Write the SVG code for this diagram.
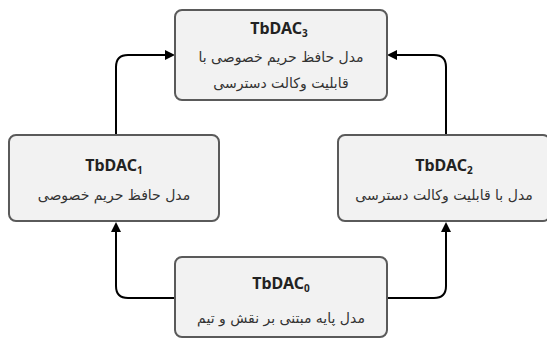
<svg xmlns="http://www.w3.org/2000/svg" width="547" height="339" viewBox="0 0 547 339">
<defs>
<marker id="ah" markerWidth="10" markerHeight="10" refX="8" refY="5" orient="auto" markerUnits="userSpaceOnUse">
<path d="M0,0 L10,5 L0,10 z" fill="#000"/>
</marker>
<style>
.box{fill:#f2f2f2;stroke:#5a5a5a;stroke-width:2}
.t{font-family:"Noto Sans","DejaVu Sans",sans-serif;font-weight:bold;font-size:16px;fill:#222;text-anchor:middle}
.s{font-size:10px}
.p{font-family:"DejaVu Sans",sans-serif;font-size:14px;fill:#333;text-anchor:middle;direction:rtl}
.c{fill:none;stroke:#000;stroke-width:2}
</style>
</defs>
<g id="connectors">
<path class="c" d="M175,298 H128 Q116,298 116,286 V224" marker-end="url(#ah)"/>
<path class="c" d="M388,298 H434 Q446,298 446,286 V224" marker-end="url(#ah)"/>
<path class="c" d="M116,134 V67 Q116,55 128,55 H173" marker-end="url(#ah)"/>
<path class="c" d="M446,134 V67 Q446,55 434,55 H389" marker-end="url(#ah)"/>
</g>
<g id="n3">
<rect class="box" x="175" y="10" width="212" height="90" rx="7"/>
<text class="t" x="279" y="34">TbDAC<tspan class="s" dy="3">3</tspan></text>
<text class="p" x="281" y="62">مدل حافظ حریم خصوصی با</text>
<text class="p" x="281" y="88">قابلیت وکالت دسترسی</text>
</g>
<g id="n1">
<rect class="box" x="9" y="135" width="210" height="86" rx="7"/>
<text class="t" x="114" y="171">TbDAC<tspan class="s" dy="3">1</tspan></text>
<text class="p" x="114" y="200">مدل حافظ حریم خصوصی</text>
</g>
<g id="n2">
<rect class="box" x="338" y="135" width="212" height="86" rx="7"/>
<text class="t" x="444" y="171">TbDAC<tspan class="s" dy="3">2</tspan></text>
<text class="p" x="444" y="200">مدل با قابلیت وکالت دسترسی</text>
</g>
<g id="n0">
<rect class="box" x="175" y="257" width="212" height="80" rx="7"/>
<text class="t" x="281" y="289">TbDAC<tspan class="s" dy="3">0</tspan></text>
<text class="p" x="281" y="323">مدل پایه مبتنی بر نقش و تیم</text>
</g>
</svg>
